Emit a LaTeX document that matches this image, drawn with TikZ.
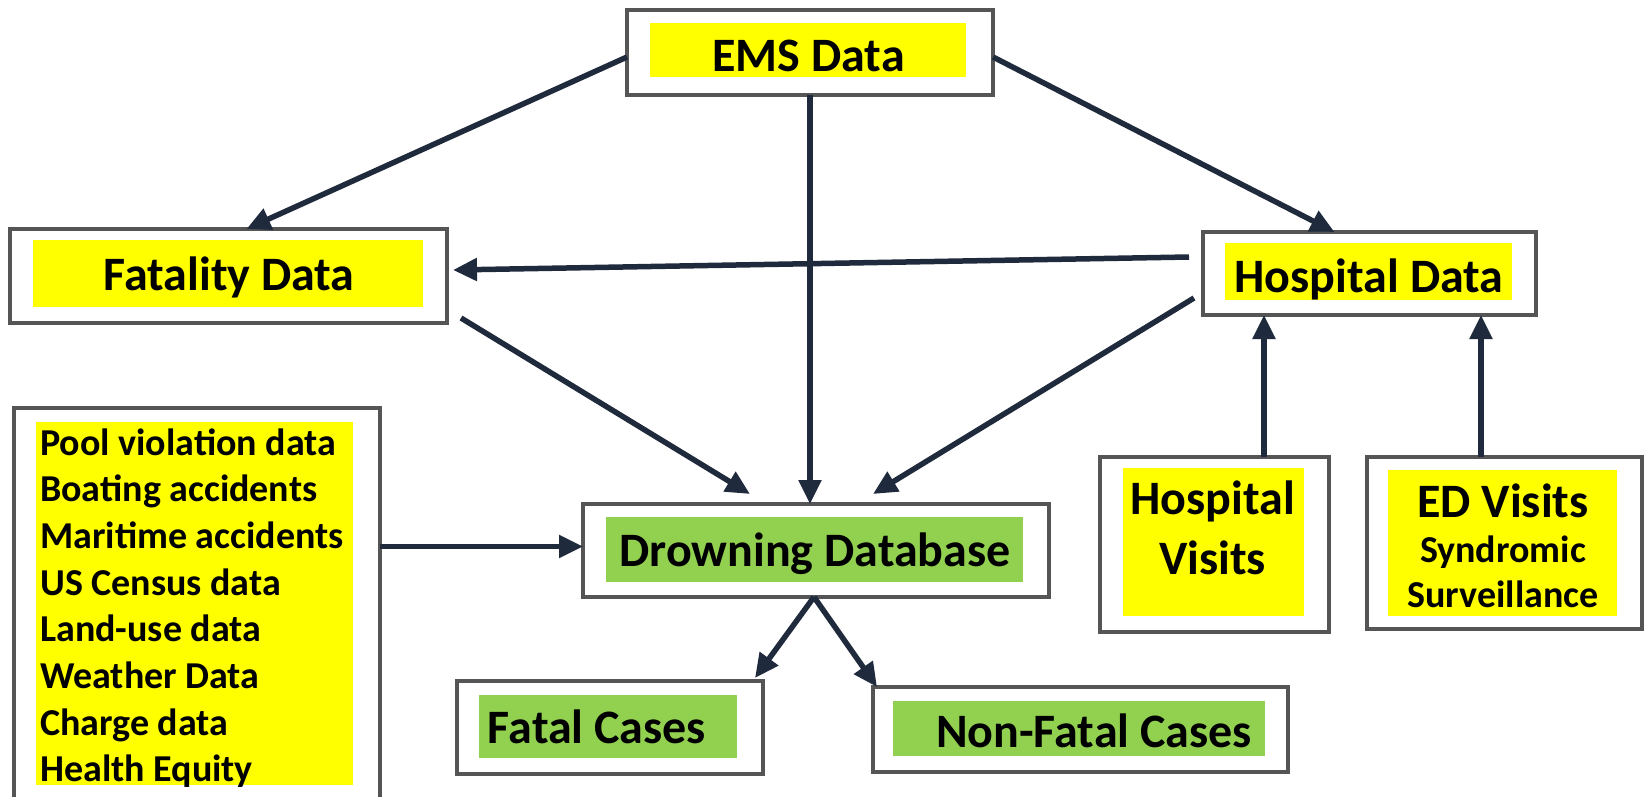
\documentclass[tikz,border=0pt]{standalone}
\usepackage{fontspec}
\setmainfont{Carlito}
\usetikzlibrary{arrows.meta}
\definecolor{boxline}{HTML}{555555}
\definecolor{arrowc}{HTML}{1F2A3D}
\definecolor{ylw}{HTML}{FFFF00}
\definecolor{grn}{HTML}{92D050}
\begin{document}
\begin{tikzpicture}[x=1pt,y=-1pt,
 obox/.style={draw=boxline, line width=4pt, fill=white, inner sep=0pt, outer sep=0pt},
 yfill/.style={fill=ylw, draw=none, inner sep=0pt},
 gfill/.style={fill=grn, draw=none, inner sep=0pt},
 big/.style={font=\fontsize{48}{58}\selectfont\bfseries, inner sep=0pt, anchor=base},
 small/.style={font=\fontsize{38}{44}\selectfont\bfseries, inner sep=0pt},
 arr/.style={draw=arrowc, line width=5.5pt, -{Triangle[length=24pt,width=22pt]}}
]
\clip (0,0) rectangle (1650,797);
\fill[white] (0,0) rectangle (1650,797);

% EMS
\node[obox, minimum width=366pt, minimum height=85pt] (ems) at (810,52.5) {};
\node[yfill, minimum width=316pt, minimum height=54pt] (emsf) at (808,50) {};
\node[big] (emst) at (808.5,72) {EMS Data};

% Fatality
\node[obox, minimum width=437pt, minimum height=94pt] (fat) at (228.5,276) {};
\node[yfill, minimum width=390pt, minimum height=67pt] (fatf) at (228,273.5) {};
\node[big] (fatt) at (229,290) {Fatality Data};

% Hospital data
\node[obox, minimum width=333pt, minimum height=83pt] (hosp) at (1369.5,273.5) {};
\node[yfill, minimum width=287pt, minimum height=57pt] (hospf) at (1368.5,271.5) {};
\node[big] (hospt) at (1369,292) {Hospital Data};

% List
\node[obox, minimum width=366pt, minimum height=412pt] (list) at (197,614) {};
\node[yfill, minimum width=317pt, minimum height=363pt] (listf) at (194.5,603.5) {};
\foreach \t [count=\i] in {Pool violation data, Boating accidents, Maritime accidents, US Census data, Land-use data, Weather Data, Charge data, Health Equity}
  \node[small, anchor=base west] (l\i) at (40,{455+(\i-1)*46.67}) {\t};

% Hospital visits
\node[obox, minimum width=229pt, minimum height=175pt] (hv) at (1214.5,544.5) {};
\node[yfill, minimum width=181pt, minimum height=148pt] (hvf) at (1213.5,542) {};
\node[big] (hvt1) at (1212.5,514) {Hospital};
\node[big] (hvt2) at (1212.5,574) {Visits};

% ED visits
\node[obox, minimum width=275pt, minimum height=172pt] (ed) at (1504.5,543) {};
\node[yfill, minimum width=229pt, minimum height=146pt] (edf) at (1502.5,543) {};
\node[big] (edt1) at (1503,517) {ED Visits};
\node[small, anchor=base] (edt2) at (1503,562) {Syndromic};
\node[small, anchor=base] (edt3) at (1503,607) {Surveillance};

% Drowning database
\node[obox, minimum width=466pt, minimum height=93pt] (db) at (816,550.5) {};
\node[gfill, minimum width=417pt, minimum height=65pt] (dbf) at (814.5,549.5) {};
\node[big] (dbt) at (815,566) {Drowning Database};

% Fatal cases
\node[obox, minimum width=306pt, minimum height=93pt] (fc) at (610,727.5) {};
\node[gfill, minimum width=258pt, minimum height=63pt] (fcf) at (608,726.5) {};
\node[big] (fct) at (597,743) {Fatal Cases};

% Non-fatal cases
\node[obox, minimum width=415pt, minimum height=85pt] (nf) at (1080.5,729.5) {};
\node[gfill, minimum width=372pt, minimum height=55pt] (nff) at (1079,728.5) {};
\node[big] (nft) at (1094,747) {Non-Fatal Cases};

% connectors
\coordinate (dbw) at ([yshift=4pt]db.west);
\coordinate (hvtop) at ([xshift=49.5pt]hv.north);
\coordinate (edtop) at ([xshift=-23.5pt]ed.north);
\draw[arr] ([yshift=-4.5pt]ems.west) -- ([xshift=18pt]fat.north);
\draw[arr] ([yshift=-4.5pt]ems.east) -- ([xshift=-35pt]hosp.north);
\draw[arr] (ems.south) -- (ems.south |- db.north);
\draw[arr] ([xshift=-14pt,yshift=16.5pt]hosp.west) -- ([xshift=6pt,yshift=6pt]fat.east);
\draw[arr] ([xshift=14pt,yshift=5pt]fat.south east) -- ([xshift=-66pt,yshift=10pt]db.north);
\draw[arr] ([xshift=-9pt,yshift=17pt]hosp.south west) -- ([xshift=57pt,yshift=10pt]db.north);
\draw[arr] (list.east |- dbw) -- (dbw);
\draw[arr] (hvtop) -- (hvtop |- hosp.south);
\draw[arr] (edtop) -- (edtop |- hosp.south);
\draw[arr] ([xshift=-2pt]db.south) -- ([xshift=-8pt,yshift=3pt]fc.north east);
\draw[arr] ([xshift=-2pt]db.south) -- ([xshift=4pt]nf.north west);
\end{tikzpicture}
\end{document}
